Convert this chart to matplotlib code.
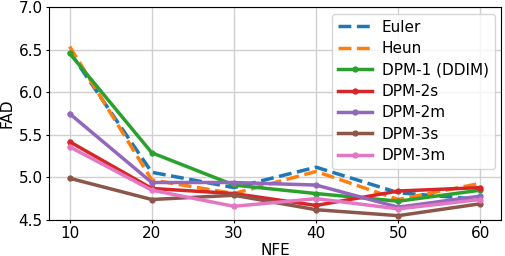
import matplotlib
matplotlib.use("Agg")
import matplotlib.pyplot as plt

# NFE steps on the x axis
nfe = [10, 20, 30, 40, 50, 60]

# FAD values per sampler
euler = [6.48, 5.06, 4.88, 5.12, 4.82, 4.74]
heun = [6.54, 4.97, 4.81, 5.07, 4.74, 4.93]
dpm1 = [6.46, 5.29, 4.91, 4.81, 4.72, 4.85]
dpm2s = [5.42, 4.87, 4.81, 4.67, 4.84, 4.88]
dpm2m = [5.75, 4.94, 4.94, 4.91, 4.65, 4.78]
dpm3s = [4.99, 4.74, 4.79, 4.62, 4.55, 4.69]
dpm3m = [5.36, 4.85, 4.66, 4.75, 4.63, 4.74]

plt.rcParams['font.size'] = 11

fig, ax = plt.subplots(figsize=(5.06, 2.56), dpi=100)
lw = 2.5
ms = 3.5
ax.plot(nfe, euler, '--', color='tab:blue', lw=lw, label='Euler')
ax.plot(nfe, heun, '--', color='tab:orange', lw=lw, label='Heun')
ax.plot(nfe, dpm1, '-', marker='o', ms=ms, color='tab:green', lw=lw, label='DPM-1 (DDIM)')
ax.plot(nfe, dpm2s, '-', marker='o', ms=ms, color='tab:red', lw=lw, label='DPM-2s')
ax.plot(nfe, dpm2m, '-', marker='o', ms=ms, color='tab:purple', lw=lw, label='DPM-2m')
ax.plot(nfe, dpm3s, '-', marker='o', ms=ms, color='tab:brown', lw=lw, label='DPM-3s')
ax.plot(nfe, dpm3m, '-', marker='o', ms=ms, color='tab:pink', lw=lw, label='DPM-3m')

ax.set_ylim(4.5, 7.0)
ax.set_xticks(nfe)
ax.tick_params(length=2.5, pad=2)
ax.set_xlabel('NFE', labelpad=1)
ax.set_ylabel('FAD', labelpad=3)
ax.grid(True, color='#d0d0d0', lw=1)
ax.legend(loc='upper right', handlelength=2.2, labelspacing=0.42,
          borderpad=0.4, handletextpad=0.65, borderaxespad=0.4)

fig.subplots_adjust(left=0.097, right=0.99, top=0.971, bottom=0.141)
fig.savefig('out.png', dpi=100)
